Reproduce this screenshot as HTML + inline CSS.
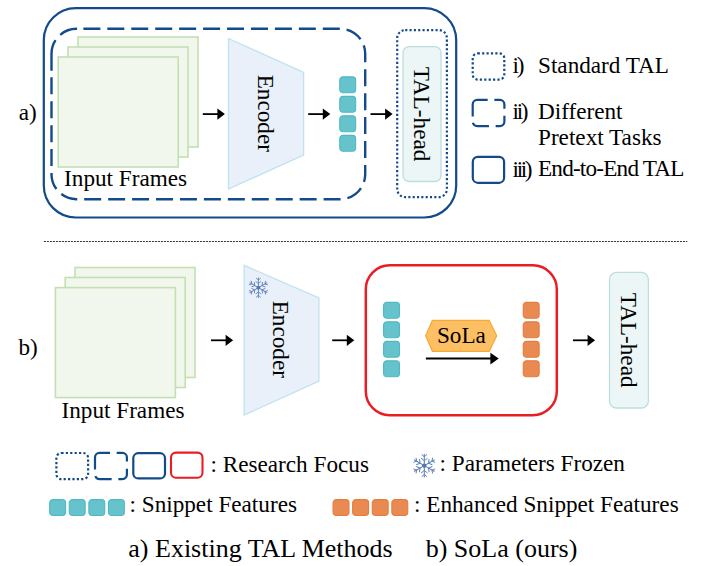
<!DOCTYPE html>
<html><head><meta charset="utf-8">
<style>
html,body{margin:0;padding:0;background:#fff;}
body{width:703px;height:566px;overflow:hidden;}
svg{display:block;}
text{font-family:"Liberation Serif",serif;fill:#000;}
.t{font-size:23.2px;}
.rn{font-size:23.2px;letter-spacing:-2.4px;}
.cap{font-size:26px;}
</style></head>
<body>
<svg width="703" height="566" viewBox="0 0 703 566">
<defs>
  <g id="arm">
    <line x1="0" y1="0" x2="0" y2="-10.2" stroke="#5f80b8" stroke-width="0.9"/>
    <polyline points="-2.3,-9.6 0,-7.6 2.3,-9.6" fill="none" stroke="#5f80b8" stroke-width="0.85"/>
    <polyline points="-2.8,-6.4 0,-4.2 2.8,-6.4" fill="none" stroke="#5f80b8" stroke-width="0.85"/>
  </g>
  <g id="flake">
    <use href="#arm"/>
    <use href="#arm" transform="rotate(60)"/>
    <use href="#arm" transform="rotate(120)"/>
    <use href="#arm" transform="rotate(180)"/>
    <use href="#arm" transform="rotate(240)"/>
    <use href="#arm" transform="rotate(300)"/>
    <circle r="1.9" fill="#5576b0"/>
  </g>
  <rect id="tq" x="0.55" y="0.55" width="15.9" height="15.9" rx="3.2" fill="#66c3cb" stroke="#4fb9c3" stroke-width="1.1"/>
  <rect id="oq" x="0.55" y="0.55" width="15.9" height="15.9" rx="3.2" fill="#e98a52" stroke="#e67c3e" stroke-width="1.1"/>
  <g id="arr">
    <line x1="0" y1="0" x2="16" y2="0" stroke="#000" stroke-width="1.8"/>
    <polygon points="14.6,-5.6 22.1,0 14.6,5.6" fill="#000"/>
  </g>
</defs>

<!-- ============ PART A ============ -->
<rect x="43.8" y="8.1" width="412.4" height="209.4" rx="32" fill="none" stroke="#124a8a" stroke-width="2.2"/>
<path d="M51.5,70.7 V53.8 A25,25 0 0 1 76.5,28.8 H340.2 A25,25 0 0 1 365.2,53.8 V174.2 A25,25 0 0 1 340.2,199.2 H76.5 A25,25 0 0 1 51.5,174.2 Z" fill="none" stroke="#124a8a" stroke-width="2.4" stroke-dasharray="31.25 7.05 18.2 6.3 17 6.94 17 6.94 17 6.94 17 6.94 17 6.94 17 6.94 17 6.94 17 6.94 17 6.94 17 6.94 17 6.94 17 6.94 17 6.94 17 6.94 17 6.94 17 6.94 17 6.94 17 6.94 17 6.94 17 6.94 17 6.94 17 6.94 17 6.94 17 6.94 17 6.94 17 6.94 17 6.94 17 6.94 17 6.94 17 6.94 17 6.94 17 6.94 17 6.94 17 6.94 17 6.94 17 200"/>

<rect x="78" y="37" width="120" height="110" fill="#f2f7ed" stroke="#c4dfb2" stroke-width="1.6"/>
<rect x="68" y="47" width="120" height="110" fill="#f2f7ed" stroke="#c4dfb2" stroke-width="1.6"/>
<rect x="58.2" y="57" width="120" height="110" fill="#f2f7ed" stroke="#c4dfb2" stroke-width="1.6"/>
<text class="t" x="64.1" y="185.7">Input Frames</text>
<text class="t" x="18.8" y="119.6">a)</text>

<use href="#arr" x="202.8" y="114.1"/>
<polygon points="228.5,38.5 303.6,72.4 303.6,155 228.5,189" fill="#e9f0f9" stroke="#bfe2f0" stroke-width="1.3"/>
<text class="t" text-anchor="middle" transform="translate(258,113.3) rotate(90)">Encoder</text>
<use href="#arr" x="308.2" y="114.1"/>
<use href="#tq" x="339.2" y="76.3"/>
<use href="#tq" x="339.2" y="95.8"/>
<use href="#tq" x="339.2" y="115.3"/>
<use href="#tq" x="339.2" y="134.8"/>
<use href="#arr" x="370.5" y="114.1"/>

<rect x="397.2" y="30.1" width="49.7" height="167" rx="8" fill="none" stroke="#124a8a" stroke-width="2.2" stroke-dasharray="2.1 2.23"/>
<rect x="403.1" y="46.6" width="37.9" height="134.9" rx="6" fill="#ecf6f6" stroke="#bcdedf" stroke-width="1.3"/>
<text class="t" text-anchor="middle" transform="translate(414.4,114) rotate(90)">TAL-head</text>

<!-- legend a -->
<rect x="472.7" y="53.4" width="31.6" height="26.2" rx="5" fill="none" stroke="#124a8a" stroke-width="2.2" stroke-dasharray="2.2 2.2"/>
<path d="M472.7,116.5 V104.4 A4.5,4.5 0 0 1 477.2,99.9 H499.9 A4.5,4.5 0 0 1 504.4,104.4 V121.6 A4.5,4.5 0 0 1 499.9,126.1 H477.2 A4.5,4.5 0 0 1 472.7,121.6 Z" fill="none" stroke="#124a8a" stroke-width="2.2" stroke-dasharray="29.47 6.7 16.77 7.1 16.87 6.7 17.4 7.06"/>
<rect x="472.8" y="156.9" width="31.3" height="25.9" rx="5" fill="none" stroke="#124a8a" stroke-width="2.2"/>
<text class="rn" x="512.6" y="72.9">i)</text>
<text class="t" x="538" y="72.7">Standard TAL</text>
<text class="rn" x="512.6" y="119">ii)</text>
<text class="t" x="538" y="119.1">Different</text>
<text class="t" x="538" y="144.6">Pretext Tasks</text>
<text class="rn" x="512.6" y="176.5">iii)</text>
<text class="t" x="538" y="176" letter-spacing="-0.8">End-to-End TAL</text>

<!-- separator -->
<line x1="43.9" y1="241.5" x2="687.3" y2="241.5" stroke="#333" stroke-width="1" stroke-dasharray="2 1"/>

<!-- ============ PART B ============ -->
<text class="t" x="18.4" y="354.9">b)</text>
<rect x="75" y="267.5" width="120" height="110" fill="#f2f7ed" stroke="#c4dfb2" stroke-width="1.6"/>
<rect x="65.2" y="277.5" width="120" height="110" fill="#f2f7ed" stroke="#c4dfb2" stroke-width="1.6"/>
<rect x="55.4" y="287.6" width="120" height="110" fill="#f2f7ed" stroke="#c4dfb2" stroke-width="1.6"/>
<text class="t" x="61.5" y="418.4">Input Frames</text>

<use href="#arr" x="211" y="340.3"/>
<polygon points="244.2,265.3 318.9,298 318.9,381 244.2,415.1" fill="#e9f0f9" stroke="#bfe2f0" stroke-width="1.3"/>
<use href="#flake" transform="translate(258.4,287.7)"/>
<text class="t" text-anchor="middle" transform="translate(273.3,339.3) rotate(90)">Encoder</text>
<use href="#arr" x="332.2" y="340.3"/>

<rect x="365.8" y="265.3" width="191" height="149.9" rx="24" fill="none" stroke="#ea1c24" stroke-width="2.5"/>
<use href="#tq" x="383" y="301.8"/>
<use href="#tq" x="383" y="321.3"/>
<use href="#tq" x="383" y="340.8"/>
<use href="#tq" x="383" y="360.3"/>
<use href="#oq" x="522.7" y="301.8"/>
<use href="#oq" x="522.7" y="321.3"/>
<use href="#oq" x="522.7" y="340.8"/>
<use href="#oq" x="522.7" y="360.3"/>
<polygon points="425.7,335.8 432.4,320.4 489.2,320.4 496.7,335.8 489.2,351.3 432.4,351.3" fill="#fcbf63" stroke="#f5aa35" stroke-width="1.2"/>
<text class="t" x="436.9" y="342.8">SoLa</text>
<line x1="425.9" y1="358.6" x2="492" y2="358.6" stroke="#000" stroke-width="2"/>
<polygon points="490.4,352.8 498.7,358.6 490.4,364.4" fill="#000"/>

<use href="#arr" x="573" y="340.3"/>
<rect x="609.5" y="272.4" width="38.9" height="135.6" rx="7" fill="#ecf6f6" stroke="#bcdedf" stroke-width="1.3"/>
<text class="t" text-anchor="middle" transform="translate(620.7,340.2) rotate(90)">TAL-head</text>

<!-- ============ LEGEND ============ -->
<rect x="56.4" y="453" width="31.7" height="26.1" rx="5" fill="none" stroke="#124a8a" stroke-width="2.2" stroke-dasharray="2.2 2.2"/>
<path d="M95,469.5 V457.4 A4.5,4.5 0 0 1 99.5,452.9 H122.4 A4.5,4.5 0 0 1 126.9,457.4 V474.6 A4.5,4.5 0 0 1 122.4,479.1 H99.5 A4.5,4.5 0 0 1 95,474.6 Z" fill="none" stroke="#124a8a" stroke-width="2.2" stroke-dasharray="29.47 6.7 16.77 7.1 16.87 6.7 17.4 7.06"/>
<rect x="133.3" y="453.2" width="31.7" height="25.2" rx="5" fill="none" stroke="#124a8a" stroke-width="2.2"/>
<rect x="171" y="452.6" width="31.5" height="25.2" rx="5" fill="none" stroke="#ea1c24" stroke-width="2.1"/>
<text class="t" x="210.5" y="471.9">: Research Focus</text>
<use href="#flake" transform="translate(424.3,465.6) scale(1.16)"/>
<text class="t" x="439.5" y="470.5">: Parameters Frozen</text>

<use href="#tq" x="49.1" y="499.1"/>
<use href="#tq" x="68.7" y="499.1"/>
<use href="#tq" x="88.3" y="499.1"/>
<use href="#tq" x="107.9" y="499.1"/>
<text class="t" x="129.5" y="511.9">: Snippet Features</text>
<use href="#oq" x="332.5" y="499.1"/>
<use href="#oq" x="352.1" y="499.1"/>
<use href="#oq" x="371.7" y="499.1"/>
<use href="#oq" x="391.3" y="499.1"/>
<text class="t" x="414" y="511.9">: Enhanced Snippet Features</text>

<text class="cap" x="128.3" y="556.8">a) Existing TAL Methods</text>
<text class="cap" x="425.7" y="556.8">b) SoLa (ours)</text>
</svg>
</body></html>
